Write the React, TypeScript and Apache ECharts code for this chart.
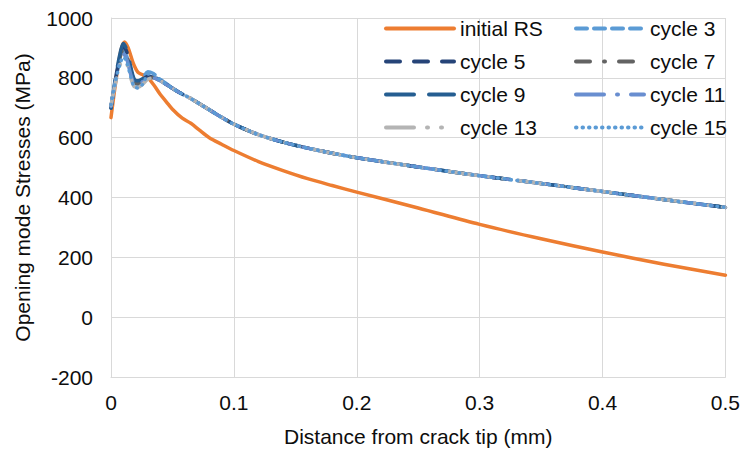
import React, { useEffect, useRef } from "react";
import * as echarts from "echarts";

// Distance from crack tip (mm)
const rsX = [0, 0.004, 0.008, 0.011, 0.014, 0.018, 0.022, 0.026, 0.03, 0.035, 0.04, 0.045, 0.05, 0.058, 0.065, 0.072, 0.08, 0.09, 0.1, 0.12, 0.14, 0.16, 0.18, 0.2, 0.25, 0.3, 0.35, 0.4, 0.45, 0.5];
// Initial residual stress (MPa)
const rsY = [667, 790, 890, 920, 900, 850, 818, 810, 800, 775, 745, 720, 695, 665, 648, 625, 600, 578, 557, 520, 490, 463, 440, 418, 365, 310, 262, 218, 177, 140];

// Near-tip region for the load cycles
const headX = [0, 0.004, 0.008, 0.01, 0.013, 0.016, 0.019, 0.022, 0.026, 0.03, 0.034, 0.038, 0.042, 0.048];
const cycle3Head = [705, 800, 870, 890, 870, 815, 780, 778, 800, 820, 815, 800, 790, 772];
const cycle5Head = [700, 805, 885, 905, 885, 830, 790, 785, 795, 805, 802, 795, 785, 770];
const cycle7Head = [702, 800, 878, 895, 875, 822, 785, 780, 790, 800, 800, 795, 785, 770];
const cycle9Head = [698, 810, 893, 915, 892, 838, 795, 790, 798, 808, 805, 797, 786, 771];
const cycle11Head = [705, 795, 865, 880, 860, 812, 778, 775, 788, 800, 800, 795, 785, 770];
const cycle13Head = [708, 790, 850, 862, 845, 800, 770, 768, 780, 795, 800, 796, 786, 771];
const cycle15Head = [710, 795, 855, 870, 850, 805, 770, 766, 780, 812, 815, 800, 788, 771];

// Far field, where all cycles coincide
const tailX = [0.056, 0.064, 0.072, 0.08, 0.09, 0.1, 0.12, 0.14, 0.16, 0.18, 0.2, 0.25, 0.3, 0.35, 0.4, 0.45, 0.5];
const cycleTail = [750, 733, 713, 693, 668, 645, 610, 585, 565, 548, 533, 502, 473, 447, 420, 393, 367];

const yTicks = { min: -200, max: 1000, interval: 200 };
const xTicks = { min: 0, max: 0.5, interval: 0.1 };

const FONT = "'Liberation Sans', Arial, sans-serif";
const TEXT = "#0d0d0d";
const GRID = "#d9d9d9";

const pairs = (xs: number[], ys: number[]) => xs.map((x, i) => [x, ys[i]]);
const cycleData = (head: number[]) => pairs(headX.concat(tailX), head.concat(cycleTail));

type Spec = { name: string; data: number[][]; color: string; dash: any };

const seriesSpecs: Spec[] = [
  { name: "initial RS", data: pairs(rsX, rsY), color: "#ED7D31", dash: "solid" },
  { name: "cycle 3", data: cycleData(cycle3Head), color: "#5B9BD5", dash: [11, 7] },
  { name: "cycle 5", data: cycleData(cycle5Head), color: "#264478", dash: [14, 14] },
  { name: "cycle 7", data: cycleData(cycle7Head), color: "#636363", dash: [14, 14, 1, 14] },
  { name: "cycle 9", data: cycleData(cycle9Head), color: "#255E91", dash: [28, 15] },
  { name: "cycle 11", data: cycleData(cycle11Head), color: "#698ED0", dash: [28, 13, 1, 13] },
  { name: "cycle 13", data: cycleData(cycle13Head), color: "#B4B4B4", dash: [28, 13, 1, 13, 1, 13] },
  { name: "cycle 15", data: cycleData(cycle15Head), color: "#5B9BD5", dash: [0.5, 6] },
];

const legendCommon = {
  orient: "vertical" as const,
  top: 18,
  padding: 0,
  itemWidth: 68,
  itemHeight: 14,
  itemGap: 12,
  selectedMode: false,
  itemStyle: { opacity: 0 },
  lineStyle: { opacity: 1, width: 4 },
  textStyle: { fontFamily: FONT, fontSize: 21, color: TEXT, padding: [0, 0, 0, 1] },
};

export default function App() {
  const ref = useRef<HTMLDivElement>(null);

  useEffect(() => {
    if (!ref.current) return;
    const chart = echarts.init(ref.current, undefined, { renderer: "svg" });
    chart.setOption({
      animation: false,
      backgroundColor: "#ffffff",
      grid: { left: 111, right: 16, top: 18, bottom: 74 },
      legend: [
        {
          ...legendCommon,
          left: 384,
          data: ["initial RS", "cycle 5", "cycle 9", "cycle 13"],
        },
        {
          ...legendCommon,
          left: 574,
          data: ["cycle 3", "cycle 7", "cycle 11", "cycle 15"],
        },
      ],
      xAxis: {
        type: "value",
        ...xTicks,
        name: "Distance from crack tip (mm)",
        nameLocation: "middle",
        nameGap: 49,
        nameTextStyle: { fontFamily: FONT, fontSize: 21, color: TEXT },
        axisLine: { show: true, onZero: false, lineStyle: { color: GRID, width: 1 } },
        axisTick: { show: false },
        axisLabel: { fontFamily: FONT, fontSize: 21, color: TEXT, margin: 15 },
        splitLine: { show: true, lineStyle: { color: GRID, width: 1 } },
      },
      yAxis: {
        type: "value",
        ...yTicks,
        name: "Opening mode Stresses (MPa)",
        nameLocation: "middle",
        nameGap: 78,
        nameTextStyle: { fontFamily: FONT, fontSize: 21, color: TEXT },
        axisLine: { show: true, lineStyle: { color: GRID, width: 1 } },
        axisTick: { show: false },
        axisLabel: {
          fontFamily: FONT,
          fontSize: 21,
          color: TEXT,
          margin: 18,
          formatter: (v: number) => String(v),
        },
        splitLine: { show: true, lineStyle: { color: GRID, width: 1 } },
      },
      series: seriesSpecs.map((s) => ({
        name: s.name,
        type: "line",
        data: s.data,
        showSymbol: false,
        symbol: "none",
        smooth: 0.3,
        itemStyle: { color: s.color },
        lineStyle: { color: s.color, width: 3.5, type: s.dash, cap: "round", join: "round" },
      })),
    });
    return () => chart.dispose();
  }, []);

  return (
    <div
      ref={ref}
      style={{ position: "fixed", left: 0, top: 0, width: 743, height: 452 }}
    />
  );
}
